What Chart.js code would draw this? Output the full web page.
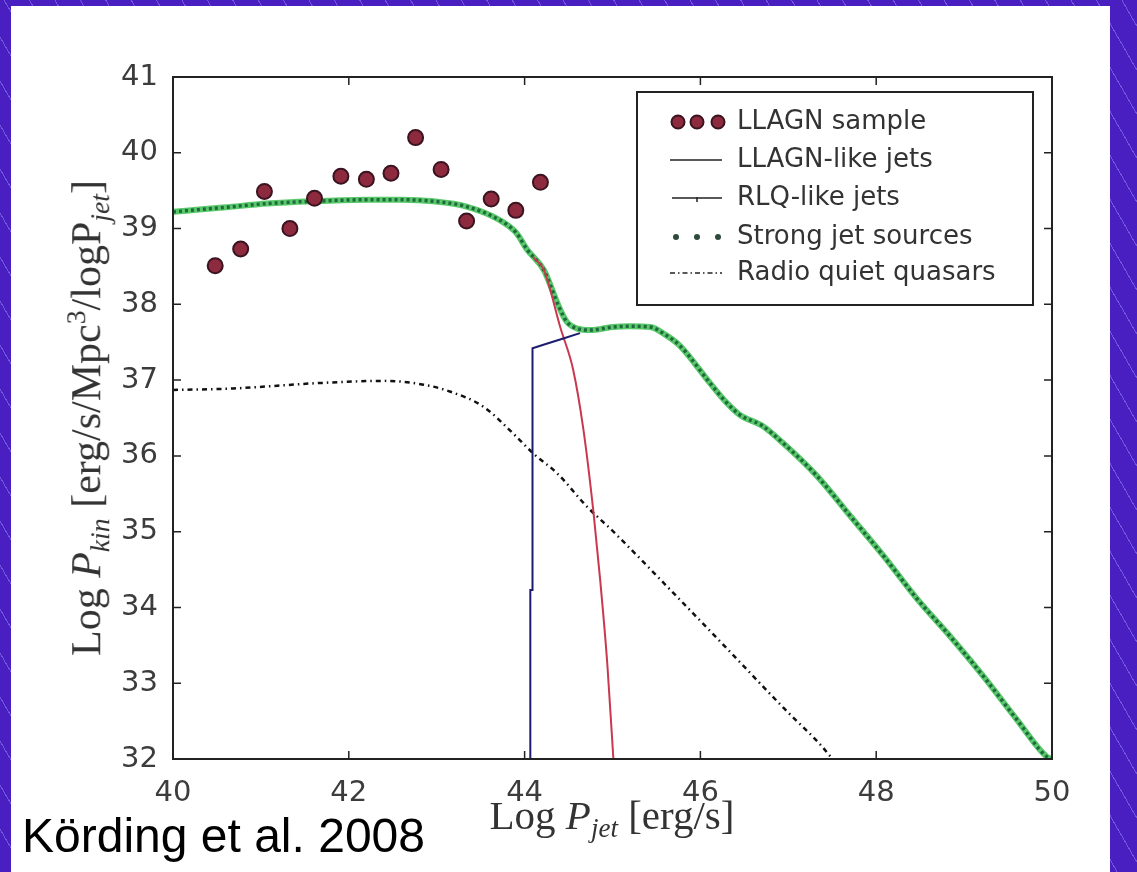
<!DOCTYPE html>
<html>
<head>
<meta charset="utf-8">
<script src="https://cdn.jsdelivr.net/npm/chart.js@4.4.0/dist/chart.umd.min.js"></script>
<style>
  html, body { margin: 0; padding: 0; }
  body {
    width: 1137px; height: 872px; overflow: hidden; position: relative;
    background: repeating-linear-gradient(60deg, #4a1fc2 0 21px, #7358dc 21px 22px);
  }
  #panel { position: absolute; left: 11px; top: 6px; width: 1099px; height: 866px; background: #fff; }
  #chart { position: absolute; left: 0; top: 0; }
  .ylab {
    position: absolute; left: 88px; top: 418px; white-space: nowrap;
    transform: translate(-50%, -50%) rotate(-90deg);
    font-family: 'Liberation Serif', serif; font-size: 42px; color: #333; line-height: 44px;
  }
  .xlab {
    position: absolute; left: 612px; top: 794px; white-space: nowrap;
    transform: translateX(-50%);
    font-family: 'Liberation Serif', serif; font-size: 41px; color: #333; line-height: 42px;
  }
  .ylab sub, .xlab sub { font-size: 0.66em; vertical-align: -0.3em; }
  .ylab sup { font-size: 0.66em; vertical-align: 0.55em; }
  .cite {
    position: absolute; left: 22px; top: 812px; white-space: nowrap;
    font-family: 'Liberation Sans', Arial, sans-serif; font-size: 48px; line-height: 48px; color: #000;
  }
</style>
</head>
<body>
<div id="panel"></div>
<canvas id="chart" width="1137" height="872"></canvas>
<div class="ylab">Log <i>P</i><sub><i>kin</i></sub> [erg/s/Mpc<sup>3</sup>/logP<sub><i>jet</i></sub>]</div>
<div class="xlab">Log <i>P</i><sub><i>jet</i></sub> [erg/s]</div>
<div class="cite">Körding et al. 2008</div>
<script>
// axis ticks
var xTicks = [40, 42, 44, 46, 48, 50];
var yTicks = [32, 33, 34, 35, 36, 37, 38, 39, 40, 41];

// legend labels (same order as the legend box)
var seriesNames = ['LLAGN sample', 'LLAGN-like jets', 'RLQ-like jets', 'Strong jet sources', 'Radio quiet quasars'];

// LLAGN sample points
var llagnX = [40.48, 40.77, 41.04, 41.33, 41.61, 41.91, 42.20, 42.48, 42.76, 43.05, 43.34, 43.62, 43.90, 44.18];
var llagnY = [38.51, 38.73, 39.49, 39.00, 39.40, 39.69, 39.65, 39.73, 40.20, 39.78, 39.10, 39.39, 39.24, 39.61];

// LLAGN-like jets (red curve)
var llagnJetX = [44.10, 44.22, 44.41, 44.55, 44.67, 44.785, 44.86, 44.94, 45.01];
var llagnJetY = [38.62, 38.45, 37.68, 37.15, 36.34, 35.24, 34.36, 33.27, 32.00];

// RLQ-like jets (blue)
var rlqX = [44.065, 44.065, 44.09, 44.09, 44.25, 44.44, 44.63];
var rlqY = [32.00, 34.23, 34.23, 37.42, 37.48, 37.55, 37.62];

// Strong jet sources (green)
var strongX = [40.0, 40.3, 40.6, 41.07, 41.6, 42.21, 42.6, 42.96, 43.34, 43.72, 43.9, 44.03, 44.22, 44.39, 44.48,
               44.6, 44.75, 45.0, 45.2, 45.43, 45.6, 45.77, 46.11, 46.3, 46.45, 46.7, 46.93, 47.33, 47.71, 48.09,
               48.46, 48.84, 49.22, 49.6, 49.94, 50.0];
var strongY = [39.22, 39.25, 39.28, 39.33, 39.36, 39.38, 39.38, 39.36, 39.29, 39.11, 38.95, 38.72, 38.45, 37.97, 37.77,
               37.68, 37.66, 37.70, 37.71, 37.70, 37.60, 37.45, 36.96, 36.70, 36.54, 36.40, 36.18, 35.73, 35.20, 34.67,
               34.12, 33.62, 33.09, 32.52, 32.03, 32.00];

// Radio quiet quasars (dash-dot)
var rqqX = [40.0, 40.69, 41.64, 42.40, 42.85, 43.15, 43.53, 43.91, 44.10, 44.37, 44.71, 45.01, 45.66, 46.30, 46.95, 47.38, 47.48];
var rqqY = [36.87, 36.89, 36.96, 36.99, 36.94, 36.85, 36.65, 36.25, 36.03, 35.77, 35.33, 35.00, 34.23, 33.46, 32.67, 32.17, 32.03];

function pts(xs, ys) {
  return xs.map(function (x, i) { return { x: x, y: ys[i] }; });
}

var dotColor = '#8e2a3e', dotEdge = '#3a1420';

// frame with inward ticks on all four sides
var framePlugin = {
  id: 'frame',
  afterDatasetsDraw: function (chart) {
    var c = chart.ctx, a = chart.chartArea, sx = chart.scales.x, sy = chart.scales.y;
    c.save();
    c.strokeStyle = '#222';
    c.lineWidth = 2;
    c.strokeRect(a.left, a.top, a.right - a.left, a.bottom - a.top);
    c.lineWidth = 1.5;
    c.beginPath();
    xTicks.forEach(function (v) {
      var px = sx.getPixelForValue(v);
      c.moveTo(px, a.bottom); c.lineTo(px, a.bottom - 8);
      c.moveTo(px, a.top); c.lineTo(px, a.top + 8);
    });
    yTicks.forEach(function (v) {
      var py = sy.getPixelForValue(v);
      c.moveTo(a.left, py); c.lineTo(a.left + 8, py);
      c.moveTo(a.right, py); c.lineTo(a.right - 8, py);
    });
    c.stroke();
    c.restore();
  }
};

// legend box in the top right corner
var legendPlugin = {
  id: 'boxLegend',
  afterDraw: function (chart) {
    var c = chart.ctx, a = chart.chartArea;
    var bw = 396, bh = 213;
    var bx = a.right - 19 - bw, by = a.top + 15;
    c.save();
    c.fillStyle = '#fff';
    c.fillRect(bx, by, bw, bh);
    c.strokeStyle = '#222';
    c.lineWidth = 2;
    c.strokeRect(bx, by, bw, bh);

    var mx = bx + 33, tx = bx + 100;
    var rows = [by + 30, by + 68, by + 106, by + 145, by + 181];

    // LLAGN sample
    [mx + 8, mx + 27, mx + 48].forEach(function (x) {
      c.beginPath();
      c.arc(x, rows[0], 6.5, 0, Math.PI * 2);
      c.fillStyle = dotColor; c.fill();
      c.lineWidth = 2; c.strokeStyle = dotEdge; c.stroke();
    });
    // LLAGN-like jets
    c.strokeStyle = '#222'; c.lineWidth = 1.5;
    c.beginPath(); c.moveTo(mx, rows[1]); c.lineTo(mx + 52, rows[1]); c.stroke();
    // RLQ-like jets
    c.beginPath(); c.moveTo(mx + 2, rows[2]); c.lineTo(mx + 52, rows[2]);
    c.moveTo(mx + 27, rows[2] - 1); c.lineTo(mx + 27, rows[2] + 4); c.stroke();
    // Strong jet sources
    [mx + 6, mx + 27, mx + 48].forEach(function (x) {
      c.beginPath(); c.arc(x, rows[3], 3, 0, Math.PI * 2);
      c.fillStyle = '#2e4a3a'; c.fill();
    });
    // Radio quiet quasars
    c.setLineDash([5, 3, 1.5, 3]);
    c.beginPath(); c.moveTo(mx, rows[4]); c.lineTo(mx + 52, rows[4]); c.stroke();
    c.setLineDash([]);

    c.fillStyle = '#333';
    c.font = '26px "DejaVu Sans"';
    c.textBaseline = 'middle';
    seriesNames.forEach(function (t, i) { c.fillText(t, tx, rows[i]); });
    c.restore();
  }
};

var tickFont = { family: 'DejaVu Sans', size: 29 };

new Chart(document.getElementById('chart'), {
  type: 'scatter',
  data: {
    datasets: [
      {
        label: seriesNames[0], data: pts(llagnX, llagnY), order: 0,
        pointRadius: 7.5, pointBackgroundColor: dotColor, pointBorderColor: dotEdge, pointBorderWidth: 2
      },
      {
        label: seriesNames[2], data: pts(rlqX, rlqY), order: 1, showLine: true,
        borderColor: '#1c1c70', borderWidth: 2, pointRadius: 0
      },
      {
        label: seriesNames[1], data: pts(llagnJetX, llagnJetY), order: 2, showLine: true,
        cubicInterpolationMode: 'monotone',
        borderColor: '#c8384f', borderWidth: 2, pointRadius: 0
      },
      {
        label: seriesNames[4], data: pts(rqqX, rqqY), order: 3, showLine: true,
        cubicInterpolationMode: 'monotone',
        borderColor: '#111', borderWidth: 2.5, borderDash: [5, 4, 1.5, 4], pointRadius: 0
      },
      {
        label: seriesNames[3], data: pts(strongX, strongY), order: 4, showLine: true,
        cubicInterpolationMode: 'monotone',
        borderColor: '#1f6a3c', borderWidth: 3.5, borderDash: [3, 3], pointRadius: 0
      },
      {
        label: seriesNames[3], data: pts(strongX, strongY), order: 5, showLine: true,
        cubicInterpolationMode: 'monotone',
        borderColor: 'rgba(60,190,80,0.85)', borderWidth: 6, pointRadius: 0
      }
    ]
  },
  options: {
    responsive: false,
    animation: false,
    layout: { padding: { top: 77, right: 85, left: 0, bottom: 0 } },
    plugins: { legend: { display: false }, tooltip: { enabled: false } },
    scales: {
      x: {
        type: 'linear', min: 40, max: 50,
        afterBuildTicks: function (s) { s.ticks = xTicks.map(function (v) { return { value: v }; }); },
        afterFit: function (s) { s.height = 113; },
        grid: { display: false }, border: { display: false },
        ticks: { padding: 9, font: tickFont, color: '#3c3c3c', maxRotation: 0, autoSkip: false }
      },
      y: {
        type: 'linear', min: 32, max: 41,
        afterBuildTicks: function (s) { s.ticks = yTicks.map(function (v) { return { value: v }; }); },
        afterFit: function (s) { s.width = 173; },
        grid: { display: false }, border: { display: false },
        ticks: { padding: 7, font: tickFont, color: '#3c3c3c', autoSkip: false }
      }
    }
  },
  plugins: [framePlugin, legendPlugin]
});
</script>
</body>
</html>
